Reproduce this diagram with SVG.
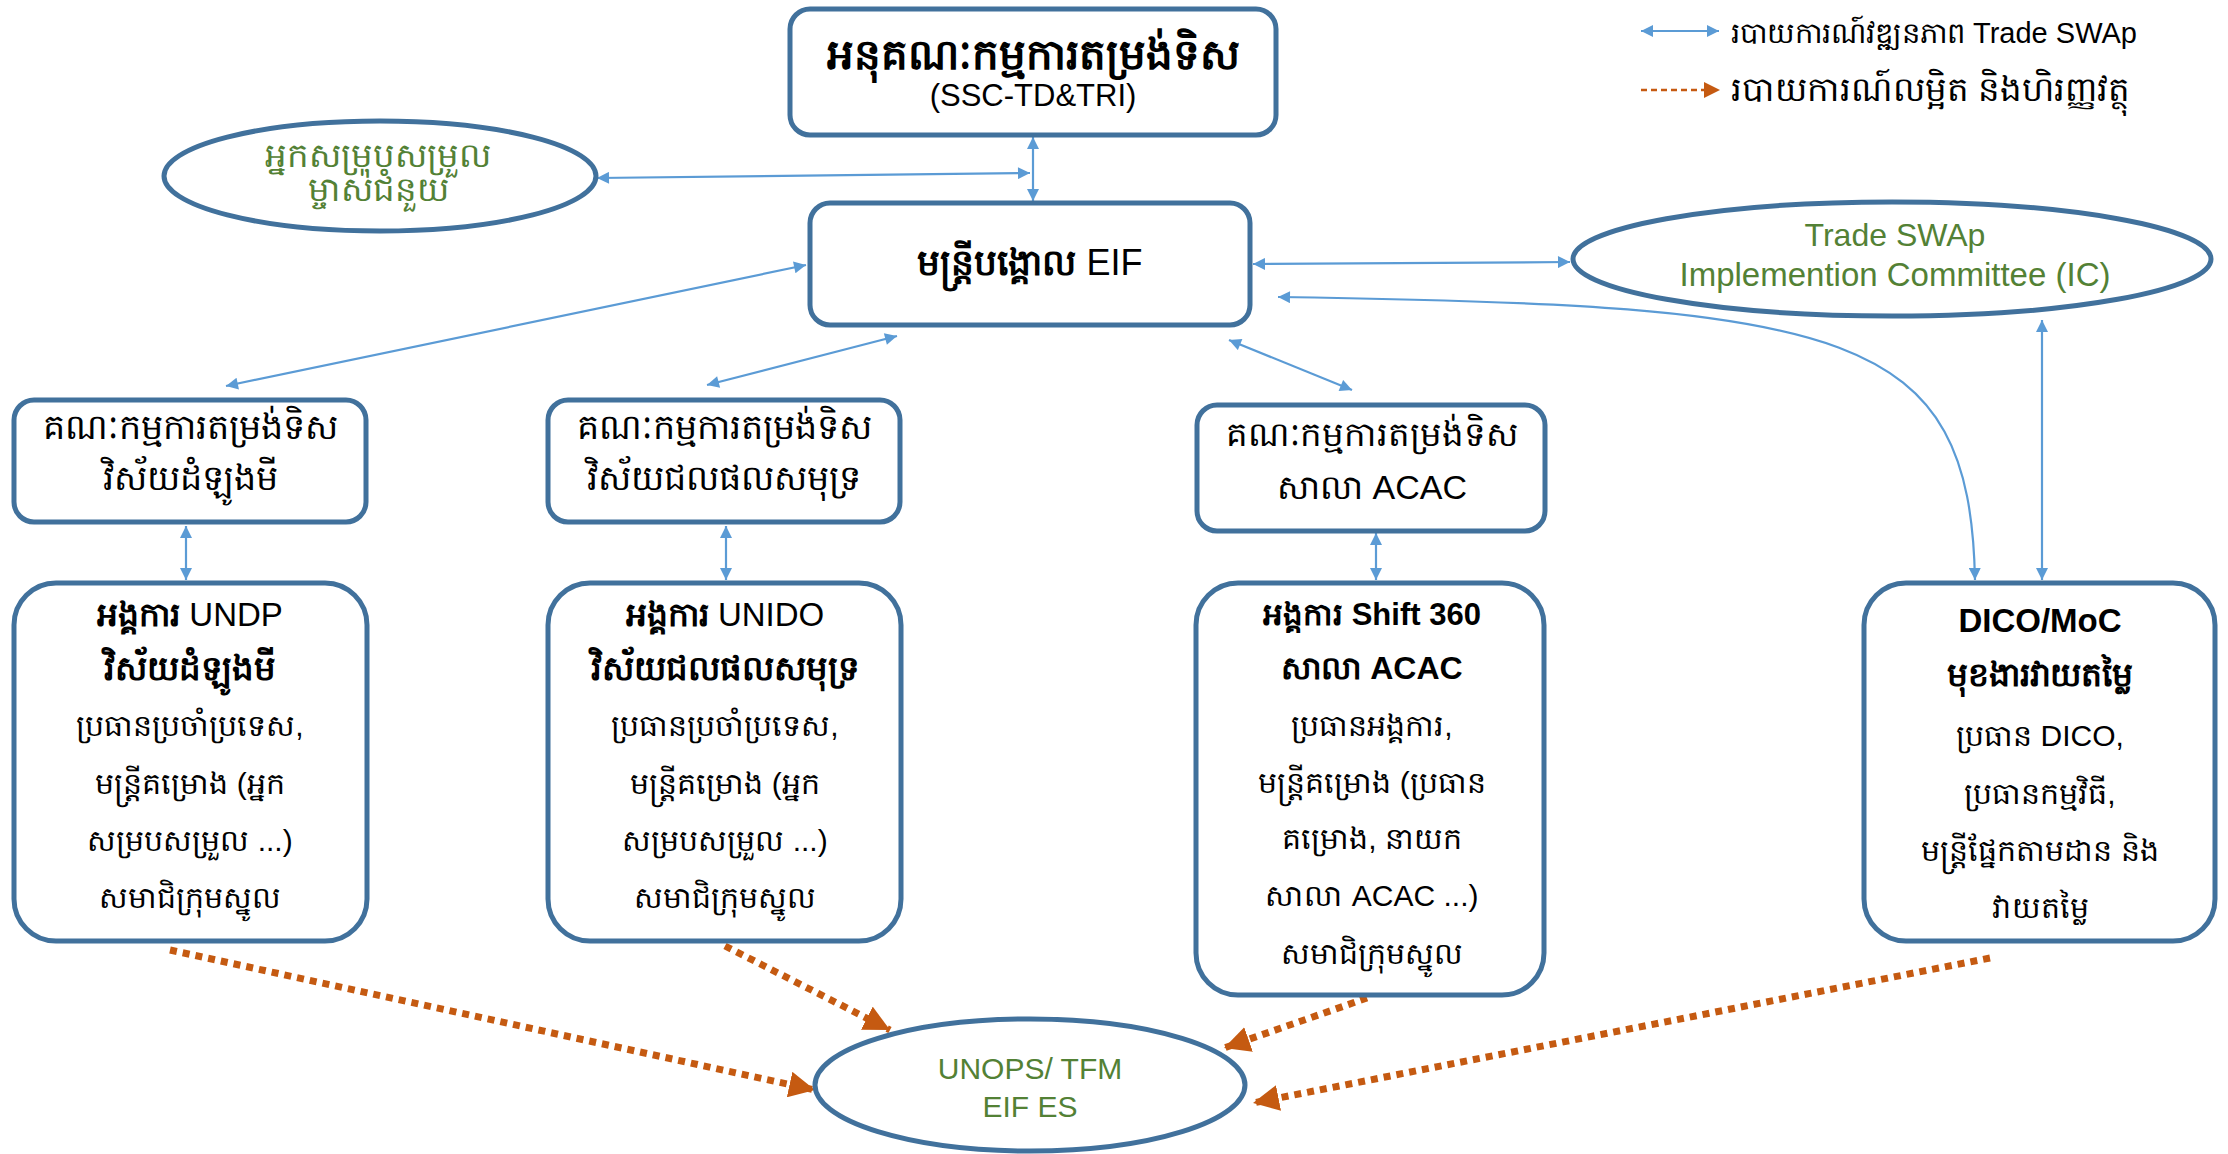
<svg xmlns="http://www.w3.org/2000/svg" width="2228" height="1154" viewBox="0 0 2228 1154">
<defs>
<style>
.box{fill:#fff;stroke:#41719C;stroke-width:5}
.ell{fill:#fff;stroke:#41719C;stroke-width:5}
.t{font-family:"Liberation Sans","Noto Sans","DejaVu Sans",sans-serif;fill:#000;text-anchor:middle}
.g{fill:#538135}
.b{font-weight:bold}
.n{font-weight:normal}
.blue{fill:none;stroke:#5B9BD5;stroke-width:2.2}
.org{fill:none;stroke:#C55A11;stroke-width:7;stroke-dasharray:7 6}
</style>
<marker id="ab" viewBox="0 0 10 10" refX="10" refY="5" markerUnits="userSpaceOnUse" markerWidth="14" markerHeight="12" orient="auto-start-reverse"><path d="M0,0 L10,5 L0,10 z" fill="#5B9BD5"/></marker>
<marker id="ao" viewBox="0 0 10 10" refX="10" refY="5" markerUnits="userSpaceOnUse" markerWidth="26" markerHeight="26" orient="auto"><path d="M0,0 L10,5 L0,10 z" fill="#C55A11"/></marker>
</defs>

<g id="connectors">
<path class="blue" d="M1033,137 L1033,201" marker-start="url(#ab)" marker-end="url(#ab)"/>
<path class="blue" d="M597,178 L1030,173" marker-start="url(#ab)" marker-end="url(#ab)"/>
<path class="blue" d="M1253,264 L1570,262" marker-start="url(#ab)" marker-end="url(#ab)"/>
<path class="blue" d="M806,265 L226,386" marker-start="url(#ab)" marker-end="url(#ab)"/>
<path class="blue" d="M897,336 L707,385" marker-start="url(#ab)" marker-end="url(#ab)"/>
<path class="blue" d="M1229,340 L1352,390" marker-start="url(#ab)" marker-end="url(#ab)"/>
<path class="blue" d="M186,526 L186,580" marker-start="url(#ab)" marker-end="url(#ab)"/>
<path class="blue" d="M726,526 L726,580" marker-start="url(#ab)" marker-end="url(#ab)"/>
<path class="blue" d="M1376,533 L1376,580" marker-start="url(#ab)" marker-end="url(#ab)"/>
<path class="blue" d="M1278,297 C1850,305 1970,330 1975,580" marker-start="url(#ab)" marker-end="url(#ab)"/>
<path class="blue" d="M2042,320 L2042,580" marker-start="url(#ab)" marker-end="url(#ab)"/>
<path class="org" d="M170,950 L815,1090" marker-end="url(#ao)"/>
<path class="org" d="M725,946 L890,1030" marker-end="url(#ao)"/>
<path class="org" d="M1367,998 L1224,1048" marker-end="url(#ao)"/>
<path class="org" d="M1990,958 L1253,1103" marker-end="url(#ao)"/>
</g>

<g id="legend">
<path class="blue" d="M1641,31 L1719,31" marker-start="url(#ab)" marker-end="url(#ab)"/>
<text class="t" x="1731" y="43" font-size="29" style="text-anchor:start">របាយការណ៍វឌ្ឍនភាព Trade SWAp</text>
<path fill="none" stroke="#C55A11" stroke-width="2.5" stroke-dasharray="6 4" d="M1641,90 L1705,90"/>
<path d="M1704,82 L1720,90 L1704,98 z" fill="#C55A11"/>
<text class="t" x="1731" y="101" font-size="34" style="text-anchor:start">របាយការណ៍លម្អិត និងហិរញ្ញវត្ថុ</text>
</g>

<g id="ssc">
<rect class="box" x="790" y="9" width="486" height="126" rx="20"/>
<text class="t b" x="1033" y="69" font-size="42">អនុគណៈកម្មការតម្រង់ទិស</text>
<text class="t" x="1033" y="106" font-size="31">(SSC-TD&amp;TRI)</text>
</g>

<g id="donor">
<ellipse class="ell" cx="380" cy="176" rx="216" ry="55"/>
<text class="t g" x="378" y="167" font-size="34">អ្នកសម្រុបសម្រួល</text>
<text class="t g" x="378" y="201" font-size="34">ម្ចាស់ជំនួយ</text>
</g>

<g id="eif">
<rect class="box" x="810" y="203" width="440" height="122" rx="20"/>
<text class="t" x="1030" y="275" font-size="36"><tspan class="b">មន្ត្រីបង្គោល</tspan> EIF</text>
</g>

<g id="ic">
<ellipse class="ell" cx="1892" cy="259" rx="319" ry="57"/>
<text class="t g" x="1895" y="246" font-size="32">Trade SWAp</text>
<text class="t g" x="1895" y="286" font-size="33">Implemention Committee (IC)</text>
</g>

<g id="comA">
<rect class="box" x="14" y="400" width="352" height="122" rx="20"/>
<text class="t" x="190" y="439" font-size="35">គណៈកម្មការតម្រង់ទិស</text>
<text class="t" x="190" y="490" font-size="35">វិស័យដំឡូងមី</text>
</g>

<g id="comB">
<rect class="box" x="548" y="400" width="352" height="122" rx="20"/>
<text class="t" x="724" y="439" font-size="35">គណៈកម្មការតម្រង់ទិស</text>
<text class="t" x="724" y="490" font-size="35">វិស័យជលផលសមុទ្រ</text>
</g>

<g id="comC">
<rect class="box" x="1197" y="405" width="348" height="126" rx="20"/>
<text class="t" x="1372" y="446" font-size="34">គណៈកម្មការតម្រង់ទិស</text>
<text class="t" x="1372" y="499" font-size="34">សាលា ACAC</text>
</g>

<g id="undp">
<rect class="box" x="14" y="583" width="353" height="358" rx="42"/>
<text class="t b" x="190" y="626" font-size="33">អង្គការ <tspan class="n">UNDP</tspan></text>
<text class="t b" x="190" y="680" font-size="34">វិស័យដំឡូងមី</text>
<text class="t" x="190" y="736" font-size="30">ប្រធានប្រចាំប្រទេស,</text>
<text class="t" x="190" y="794" font-size="30">មន្ត្រីគម្រោង (អ្នក</text>
<text class="t" x="190" y="851" font-size="30">សម្របសម្រួល ...)</text>
<text class="t" x="190" y="908" font-size="30">សមាជិក្រុមស្នូល</text>
</g>

<g id="unido">
<rect class="box" x="548" y="583" width="353" height="358" rx="42"/>
<text class="t b" x="725" y="626" font-size="33">អង្គការ <tspan class="n">UNIDO</tspan></text>
<text class="t b" x="725" y="680" font-size="34">វិស័យជលផលសមុទ្រ</text>
<text class="t" x="725" y="736" font-size="30">ប្រធានប្រចាំប្រទេស,</text>
<text class="t" x="725" y="794" font-size="30">មន្ត្រីគម្រោង (អ្នក</text>
<text class="t" x="725" y="851" font-size="30">សម្របសម្រួល ...)</text>
<text class="t" x="725" y="908" font-size="30">សមាជិក្រុមស្នូល</text>
</g>

<g id="shift">
<rect class="box" x="1196" y="583" width="348" height="412" rx="42"/>
<text class="t b" x="1372" y="625" font-size="31">អង្គការ Shift 360</text>
<text class="t b" x="1372" y="679" font-size="32">សាលា ACAC</text>
<text class="t" x="1372" y="736" font-size="30">ប្រធានអង្គការ,</text>
<text class="t" x="1372" y="793" font-size="30">មន្ត្រីគម្រោង (ប្រធាន</text>
<text class="t" x="1372" y="849" font-size="30">គម្រោង, នាយក</text>
<text class="t" x="1372" y="906" font-size="30">សាលា ACAC ...)</text>
<text class="t" x="1372" y="964" font-size="30">សមាជិក្រុមស្នូល</text>
</g>

<g id="dico">
<rect class="box" x="1864" y="583" width="351" height="358" rx="42"/>
<text class="t b" x="2040" y="632" font-size="33">DICO/MoC</text>
<text class="t b" x="2040" y="686" font-size="33">មុខងារវាយតម្លៃ</text>
<text class="t" x="2040" y="746" font-size="30">ប្រធាន DICO,</text>
<text class="t" x="2040" y="804" font-size="30">ប្រធានកម្មវិធី,</text>
<text class="t" x="2040" y="861" font-size="30">មន្ត្រីផ្នែកតាមដាន និង</text>
<text class="t" x="2040" y="918" font-size="30">វាយតម្លៃ</text>
</g>

<g id="unops">
<ellipse class="ell" cx="1030" cy="1085" rx="215" ry="66"/>
<text class="t g" x="1030" y="1079" font-size="30">UNOPS/ TFM</text>
<text class="t g" x="1030" y="1117" font-size="30">EIF ES</text>
</g>
</svg>
